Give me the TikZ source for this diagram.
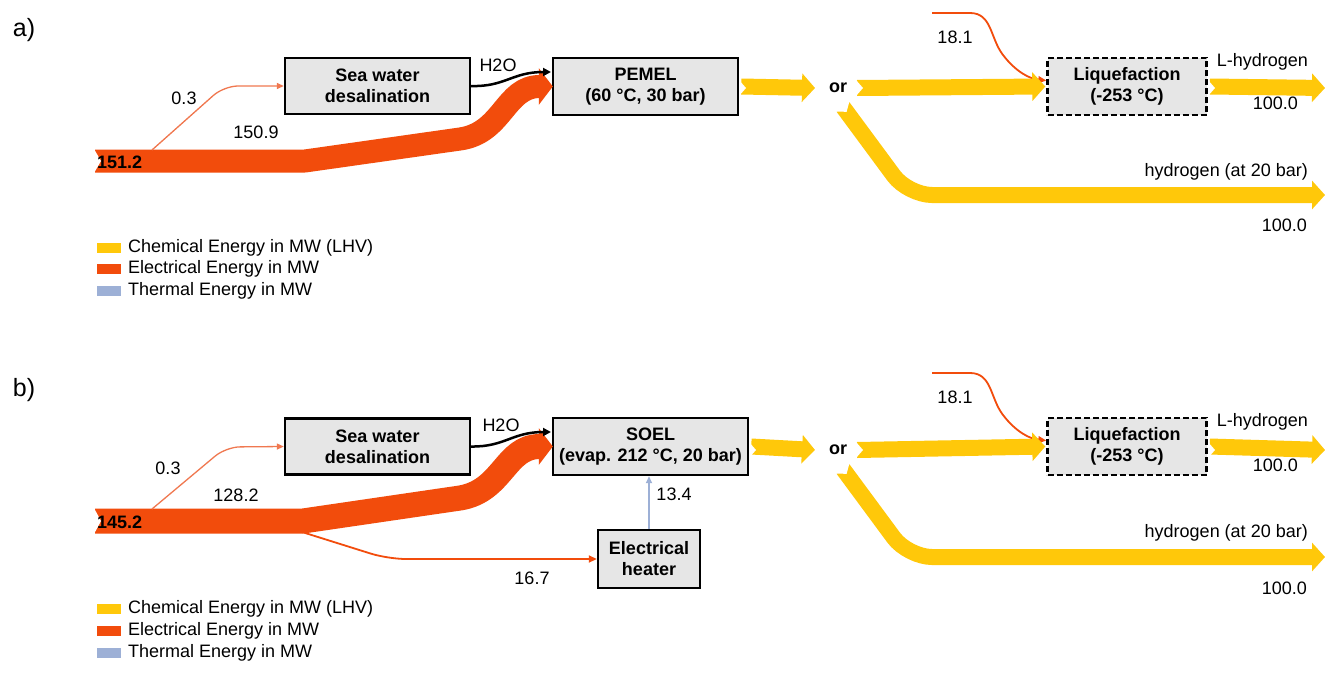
\documentclass[tikz,border=0pt]{standalone}
\usepackage{fontspec}
\setmainfont{Liberation Sans}
\usetikzlibrary{arrows.meta}
\definecolor{elec}{RGB}{242,76,12}
\definecolor{elecl}{RGB}{240,120,80}
\definecolor{chem}{RGB}{255,200,10}
\definecolor{therm}{RGB}{157,176,214}
\definecolor{boxfill}{RGB}{230,230,230}
\newcommand\mynotch[3]{\fill[white] (#1-1,#2-#3) -- (#1+6,#2) -- (#1-1,#2+#3) -- cycle;}
\begin{document}
\begin{tikzpicture}[x=1pt,y=-1pt,
  proc/.style={draw=black, line width=2.4pt, fill=boxfill, align=center,
    font=\fontsize{18}{21}\selectfont\bfseries, inner sep=0pt},
  dproc/.style={proc, dash pattern=on 6pt off 3pt},
  lab/.style={font=\fontsize{18}{20}\selectfont, inner sep=0pt},
  blab/.style={font=\fontsize{18}{20}\selectfont\bfseries, inner sep=0pt},
  panlab/.style={font=\fontsize{25}{28}\selectfont, inner sep=0pt},
  leg/.style={font=\fontsize{18}{20}\selectfont, inner sep=0pt, anchor=west},
  yel/.style={draw=chem, line width=16pt, -{Triangle[length=13pt,width=28pt]}},
  redband/.style={draw=elec, line width=23pt, line join=round, -{Triangle[length=14pt,width=36pt]}},
  thinred/.style={draw=elecl, line width=1.3pt, -{Triangle[length=7pt,width=6pt]}},
  midred/.style={draw=elec, line width=1.8pt, -{Triangle[length=8pt,width=7pt]}},
  water/.style={draw=black, line width=2.5pt, -{Triangle[length=8pt,width=8pt]}},
  heat/.style={draw=therm, line width=1.6pt, -{Triangle[length=7pt,width=6pt]}}]
\useasboundingbox (0,0) rectangle (1327,677);
\fill[white] (0,0) rectangle (1327,677);

% ================= panel a =================
\node[panlab] (pa) at (24,30) {a)};
\node[proc, minimum width=185pt, minimum height=56pt] (desA) at (377.5,86) {Sea water\\desalination};
\node[proc, minimum width=185pt, minimum height=57pt] (pemA) at (645.5,86.5) {PEMEL\\(60 °C, 30 bar)};
\node[dproc, minimum width=159pt, minimum height=57pt] (liqA) at (1127,86.5) {Liquefaction\\(-253 °C)};
\node[blab] (orA) at (838,88) {or};

% electrical
\draw[redband] (95,161) -- (305,161) -- (460,139) .. controls (503,133) and (505,86.5) .. ([xshift=1pt]pemA.west);
\mynotch{95}{161}{12}
\draw[thinred, rounded corners=14pt] (152,150) -- (224,86) -- (desA.west);
\draw[water] (desA.east) .. controls (505,87) and (512,72) .. (551,72);
\draw[midred] (932,13) -- (970,13) .. controls (992,13) and (990,38) .. (1003,55) .. controls (1016,72) and (1030,79) .. ([yshift=6pt]liqA.west);

% chemical
\draw[yel] ([xshift=2pt]pemA.east) -- (815,88);
\mynotch{740}{88}{8}
\draw[yel] (857,88) -- ([xshift=-1pt]liqA.west);
\mynotch{857}{88}{8}
\draw[yel] ([xshift=2pt]liqA.east) -- (1325,88);
\mynotch{1209}{88}{8}
\draw[yel, rounded corners=24pt] (843,107) -- (908,195) -- (1325,195);
\fill[white, shift={(843,107)}, rotate=-53] (-1,9) -- (6,0) -- (-1,-9) -- cycle;

% labels
\node[blab, anchor=west] (vA0) at (97,162) {151.2};
\node[lab] (vA1) at (184,98) {0.3};
\node[lab] (vA2) at (256,132) {150.9};
\node[lab] (wA) at (498,65) {H2O};
\node[lab] (vA3) at (955,37) {18.1};
\node[lab, anchor=east] (lhA) at (1308,62) {L-hydrogen};
\node[lab, anchor=east] (lhvA) at (1298,103) {100.0};
\node[lab, anchor=east] (hA) at (1308,172) {hydrogen (at 20 bar)};
\node[lab, anchor=east] (hvA) at (1307,225) {100.0};

% legend
\fill[chem] (97,243) rectangle (121,253);
\fill[elec] (97,264) rectangle (121,274);
\fill[therm] (97,286) rectangle (121,296);
\node[leg] (lgA1) at (128,248) {Chemical Energy in MW (LHV)};
\node[leg] (lgA2) at (128,269) {Electrical Energy in MW};
\node[leg] (lgA3) at (128,291) {Thermal Energy in MW};

% ================= panel b =================
\node[panlab] (pb) at (24,390) {b)};
\node[proc, minimum width=185pt, minimum height=56pt] (desB) at (377.5,446.5) {Sea water\\desalination};
\node[proc, minimum width=195pt, minimum height=57pt] (soB) at (650.5,446.5) {SOEL\\(evap. 212 °C, 20 bar)};
\node[proc, minimum width=102pt, minimum height=58pt] (htB) at (649,559) {Electrical\\heater};
\node[dproc, minimum width=159pt, minimum height=57pt] (liqB) at (1127,446.5) {Liquefaction\\(-253 °C)};
\node[blab] (orB) at (838,450) {or};

% electrical
\draw[midred, rounded corners=18pt] (302,532) -- (388,559) -- (htB.west);
\draw[redband, line width=25pt] (95,521) -- (303,521) -- (460,498) .. controls (503,491) and (505,446.5) .. ([xshift=1pt]soB.west);
\mynotch{95}{521}{13}
\draw[thinred, rounded corners=14pt] (152,509) -- (226,447) -- (desB.west);
\draw[water] (desB.east) .. controls (505,447) and (512,432) .. (551,432);
\draw[midred] (932,373) -- (970,373) .. controls (992,373) and (990,398) .. (1003,415) .. controls (1016,432) and (1030,439) .. ([yshift=6pt]liqB.west);
\draw[heat] (htB.north) -- (soB.south -| htB.north);

% chemical
\draw[yel] ([xshift=2pt]soB.east) -- (815,450);
\mynotch{750}{450}{8}
\draw[yel] (857,450) -- ([xshift=-1pt]liqB.west);
\mynotch{857}{450}{8}
\draw[yel] ([xshift=2pt]liqB.east) -- (1325,450);
\mynotch{1209}{450}{8}
\draw[yel, rounded corners=24pt] (843,469) -- (908,557) -- (1325,557);
\fill[white, shift={(843,469)}, rotate=-53] (-1,9) -- (6,0) -- (-1,-9) -- cycle;

% labels
\node[blab, anchor=west] (vB0) at (97,522) {145.2};
\node[lab] (vB1) at (168,468) {0.3};
\node[lab] (vB2) at (236,495) {128.2};
\node[lab] (vB3) at (532,578) {16.7};
\node[lab] (vB4) at (674,494) {13.4};
\node[lab] (wB) at (501,425) {H2O};
\node[lab] (vB5) at (955,397) {18.1};
\node[lab, anchor=east] (lhB) at (1308,422) {L-hydrogen};
\node[lab, anchor=east] (lhvB) at (1298,465) {100.0};
\node[lab, anchor=east] (hB) at (1308,533) {hydrogen (at 20 bar)};
\node[lab, anchor=east] (hvB) at (1307,588) {100.0};

% legend
\fill[chem] (97,604) rectangle (121,614);
\fill[elec] (97,626) rectangle (121,636);
\fill[therm] (97,648) rectangle (121,658);
\node[leg] (lgB1) at (128,609) {Chemical Energy in MW (LHV)};
\node[leg] (lgB2) at (128,631) {Electrical Energy in MW};
\node[leg] (lgB3) at (128,653) {Thermal Energy in MW};
\end{tikzpicture}
\end{document}
